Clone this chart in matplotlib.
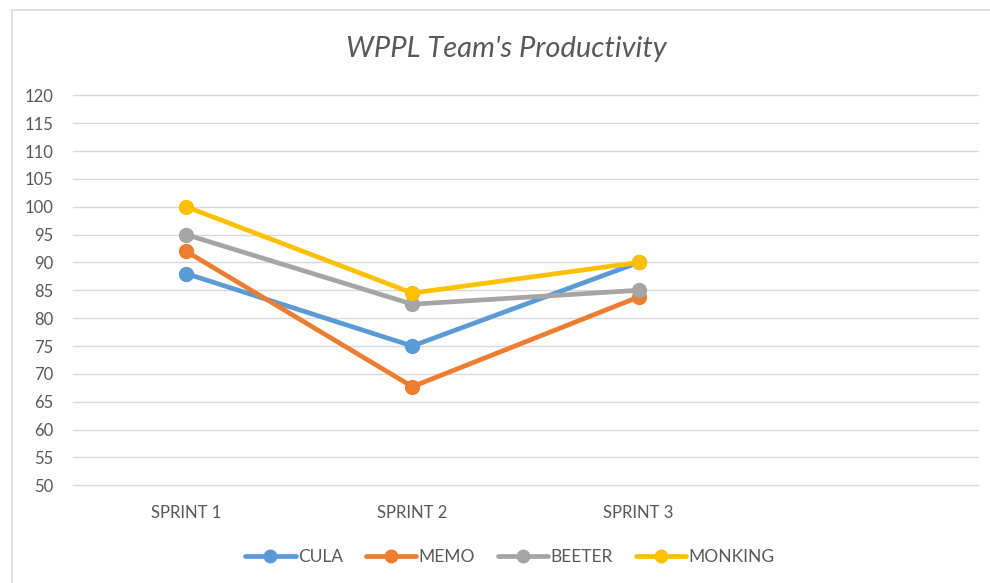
import matplotlib
matplotlib.use("Agg")
import matplotlib.pyplot as plt
from matplotlib.lines import Line2D

categories = ["SPRINT 1", "SPRINT 2", "SPRINT 3", ""]
series_names = ["CULA", "MEMO", "BEETER", "MONKING"]
cula = [88, 75, 90]
memo = [92, 67.7, 83.8]
beeter = [95, 82.5, 85]
monking = [100, 84.5, 90]
colors = ["#5B9BD5", "#ED7D31", "#A5A5A5", "#FFC000"]
yticks = list(range(50, 125, 5))

plt.rcParams['font.family'] = ['Lato', 'DejaVu Sans']

W, H = 990, 583
fig = plt.figure(figsize=(W / 100, H / 100), dpi=100)
ax = fig.add_axes([73 / W, 1 - 485.3 / H, (978 - 73) / W, 390 / H])

x = list(range(len(categories)))
for name, vals, c in zip(series_names, [cula, memo, beeter, monking], colors):
    ax.plot(x[:len(vals)], vals, color=c, lw=3.4, marker='o', ms=10,
            solid_capstyle='round', label=name, zorder=3)

ax.set_xlim(-0.5, len(categories) - 0.5)
ax.set_ylim(50, 120)
ax.set_yticks(yticks)
ax.set_xticks(x)
ax.set_xticklabels(categories)
ax.tick_params(axis='both', length=0, labelsize=12, labelcolor="#595959")
ax.tick_params(axis='y', pad=14)
ax.tick_params(axis='x', pad=14.5)
ax.grid(axis='y', color="#D9D9D9", lw=1.0)
ax.set_axisbelow(True)
for gl in ax.get_ygridlines():
    gl.set_clip_on(False)
for s in ax.spines.values():
    s.set_visible(False)

fig.text(506 / W, 1 - 49 / H, "WPPL Team's Productivity", ha='center', va='center',
         fontsize=21, style='italic', color="#595959")

# chart border
fig.add_artist(Line2D([12 / W, 12 / W], [0, 1 - 10 / H], color="#D9D9D9", lw=1.2,
                      transform=fig.transFigure))
fig.add_artist(Line2D([12 / W, 1], [1 - 10 / H, 1 - 10 / H], color="#D9D9D9", lw=1.2,
                      transform=fig.transFigure))

leg = fig.legend(loc='center', bbox_to_anchor=(510 / W, 1 - 557 / H), ncol=4,
                 frameon=False, fontsize=12.5, handlelength=2.9, handletextpad=0.15,
                 columnspacing=1.3, labelcolor="#595959")
for h in leg.legend_handles:
    h.set_markersize(9)

fig.savefig("out.png", dpi=100)
